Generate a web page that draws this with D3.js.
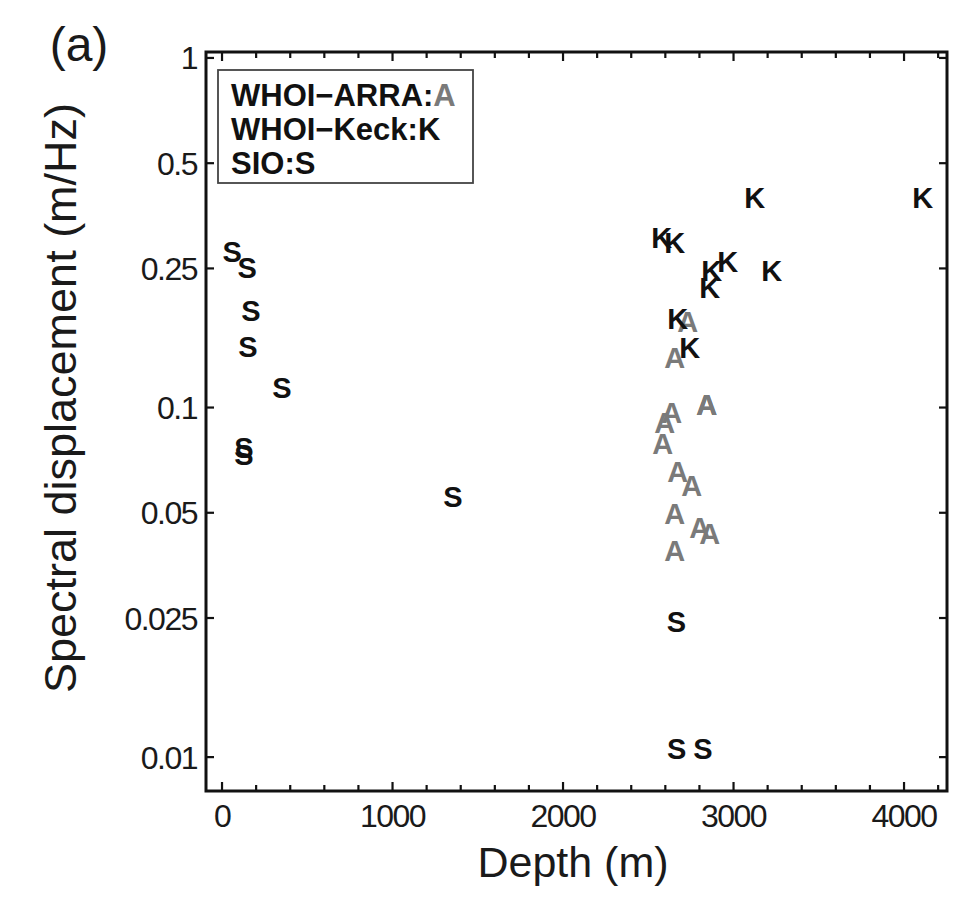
<!DOCTYPE html>
<html>
<head>
<meta charset="utf-8">
<script src="https://cdn.jsdelivr.net/npm/d3@7"></script>
<style>
  body { margin: 0; background: #fff; }
  text { font-family: "Liberation Sans", Arial, Helvetica, sans-serif; }
</style>
</head>
<body>
<div id="chart"></div>
<script>
// SIO : S
const sioDepth = [59, 147, 170, 152, 352, 129, 129, 1354, 2665, 2667, 2820];
const sioVal = [0.279, 0.251, 0.190, 0.149, 0.114, 0.077, 0.0736, 0.0555, 0.0245, 0.0106, 0.0106];

// WHOI-Keck : K
const keckDepth = [3124, 4109, 2579, 2655, 2872, 2966, 2860, 3224, 2673, 2743];
const keckVal = [0.400, 0.400, 0.307, 0.296, 0.247, 0.261, 0.220, 0.247, 0.180, 0.148];

// WHOI-ARRA : A
const arraDepth = [2843, 2843, 2843, 2638, 2597, 2585, 2673, 2755, 2655, 2802, 2860, 2655, 2731, 2655];
const arraVal = [0.1017, 0.1017, 0.1017, 0.0965, 0.0903, 0.0791, 0.0654, 0.060, 0.0499, 0.0455, 0.0437, 0.0391, 0.176, 0.139];

const yTicks = [0.01, 0.025, 0.05, 0.1, 0.25, 0.5, 1];
const yTickLabels = ['0.01', '0.025', '0.05', '0.1', '0.25', '0.5', '1'];
const xMajor = [0, 1000, 2000, 3000, 4000];
const xMinor = d3.range(0, 4201, 200);

const legendLines = [
  { name: 'WHOI\u2212ARRA:', sym: 'A', color: '#7a7a7a' },
  { name: 'WHOI\u2212Keck:', sym: 'K', color: '#111' },
  { name: 'SIO:', sym: 'S', color: '#111' }
];

const W = 974, H = 908;
const margin = { top: 52, right: 27, bottom: 117, left: 206 };

const svg = d3.select('#chart').append('svg')
  .attr('width', W)
  .attr('height', H);

svg.append('rect').attr('width', W).attr('height', H).attr('fill', '#fff');

const x = d3.scaleLinear().domain([-94, 4252]).range([margin.left, W - margin.right]);
const y = d3.scaleLog().domain([0.008, 1.04]).range([H - margin.bottom, margin.top]);

const pLeft = x.range()[0], pRight = x.range()[1];
const pTop = y.range()[1], pBottom = y.range()[0];

// inward ticks, MATLAB style
const g = svg.append('g').attr('stroke', '#111').attr('stroke-width', 2.2);
xMinor.forEach(v => {
  const len = xMajor.indexOf(v) >= 0 ? 9 : 6;
  g.append('line').attr('x1', x(v)).attr('x2', x(v)).attr('y1', pBottom).attr('y2', pBottom - len);
  g.append('line').attr('x1', x(v)).attr('x2', x(v)).attr('y1', pTop).attr('y2', pTop + len);
});
yTicks.forEach(v => {
  g.append('line').attr('x1', pLeft).attr('x2', pLeft + 8).attr('y1', y(v)).attr('y2', y(v));
  g.append('line').attr('x1', pRight).attr('x2', pRight - 8).attr('y1', y(v)).attr('y2', y(v));
});

svg.append('rect')
  .attr('x', pLeft).attr('y', pTop)
  .attr('width', pRight - pLeft).attr('height', pBottom - pTop)
  .attr('fill', 'none').attr('stroke', '#111').attr('stroke-width', 3);

// tick labels
svg.append('g').selectAll('text')
  .data(yTicks)
  .enter().append('text')
  .attr('x', pLeft - 9)
  .attr('y', d => y(d))
  .attr('dy', '0.36em')
  .attr('text-anchor', 'end')
  .style('font-size', '32px')
  .style('letter-spacing', '-1.5px')
  .attr('fill', '#1a1a1a')
  .text((d, i) => yTickLabels[i]);

svg.append('g').selectAll('text')
  .data(xMajor)
  .enter().append('text')
  .attr('x', d => x(d))
  .attr('y', pBottom + 36)
  .attr('text-anchor', 'middle')
  .style('font-size', '32px')
  .style('letter-spacing', '-1.5px')
  .attr('fill', '#1a1a1a')
  .text(d => d);

// axis titles
svg.append('text')
  .attr('transform', 'translate(76,398) rotate(-90)')
  .attr('text-anchor', 'middle')
  .style('font-size', '45px')
  .attr('fill', '#1a1a1a')
  .text('Spectral displacement (m/Hz)');

svg.append('text')
  .attr('x', 573)
  .attr('y', 877)
  .attr('text-anchor', 'middle')
  .style('font-size', '43px')
  .attr('fill', '#1a1a1a')
  .text('Depth (m)');

svg.append('text')
  .attr('x', 79)
  .attr('y', 61)
  .attr('text-anchor', 'middle')
  .style('font-size', '48px')
  .attr('fill', '#1a1a1a')
  .text('(a)');

// data letters
function drawSeries(depths, vals, sym, color) {
  svg.append('g').selectAll('text')
    .data(depths.map((d, i) => ({ depth: d, val: vals[i] })))
    .enter().append('text')
    .attr('x', d => x(d.depth))
    .attr('y', d => y(d.val))
    .attr('dy', '0.36em')
    .attr('text-anchor', 'middle')
    .style('font-size', '29px')
    .style('font-weight', 'bold')
    .attr('fill', color)
    .text(sym);
}
drawSeries(arraDepth, arraVal, 'A', '#7a7a7a');
drawSeries(keckDepth, keckVal, 'K', '#111');
drawSeries(sioDepth, sioVal, 'S', '#111');

// legend
const lg = svg.append('g');
lg.append('rect')
  .attr('x', 218).attr('y', 70)
  .attr('width', 255).attr('height', 113)
  .attr('fill', '#fff').attr('stroke', '#444').attr('stroke-width', 1.8);

legendLines.forEach((d, i) => {
  const t = lg.append('text')
    .attr('x', 231)
    .attr('y', 106 + i * 34)
    .style('font-size', '31px')
    .style('font-weight', 'bold')
    .attr('fill', '#111');
  t.append('tspan').text(d.name);
  t.append('tspan').attr('fill', d.color).text(d.sym);
});
</script>
</body>
</html>
